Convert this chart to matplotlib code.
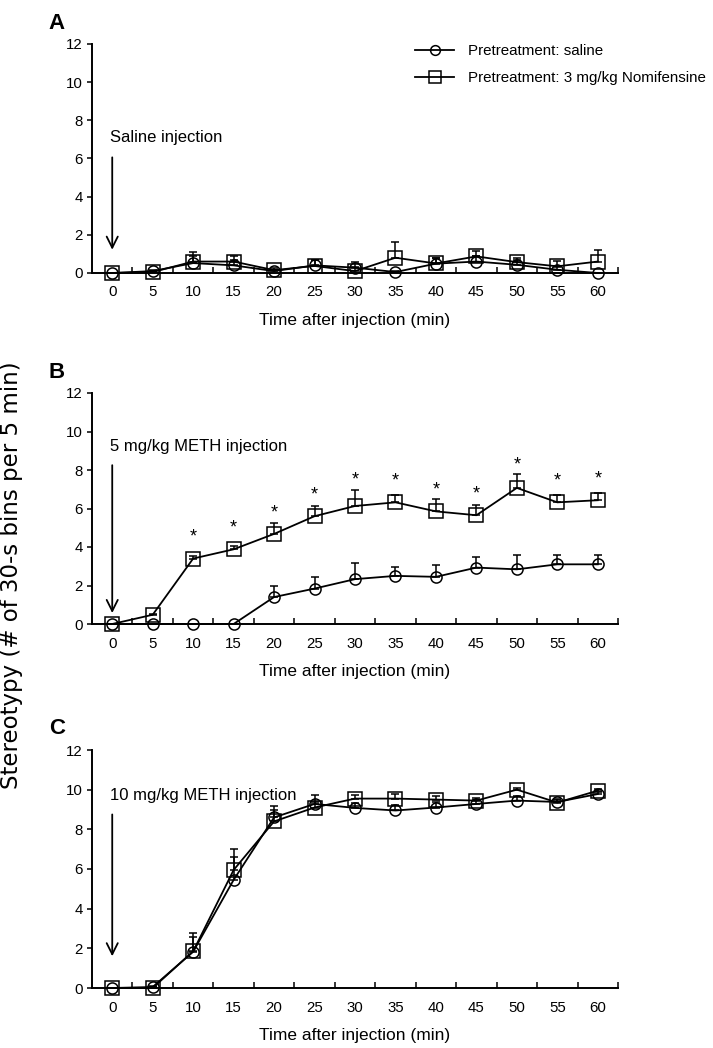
import numpy as np
import matplotlib
matplotlib.use('Agg')
import matplotlib.pyplot as plt
from matplotlib.lines import Line2D

plt.rcParams['font.family'] = ['Liberation Sans', 'DejaVu Sans']

time = [0, 5, 10, 15, 20, 25, 30, 35, 40, 45, 50, 55, 60]

# panel A: saline challenge
a_sal = [0, 0.1, 0.52, 0.4, 0.1, 0.4, 0.28, 0.05, 0.49, 0.6, 0.43, 0.17, 0.0]
a_sal_sem = [0, 0.05, 0.35, 0.3, 0.05, 0.3, 0.3, 0.05, 0.3, 0.3, 0.25, 0.15, 0]
a_nom = [0, 0.05, 0.6, 0.6, 0.15, 0.37, 0.1, 0.8, 0.5, 0.87, 0.57, 0.35, 0.6]
a_nom_sem = [0, 0.05, 0.5, 0.3, 0.1, 0.3, 0.2, 0.82, 0.3, 0.3, 0.23, 0.3, 0.6]

# panel B: 5 mg/kg METH
b_sal = [0, 0, 0, 0, 1.4, 1.84, 2.33, 2.5, 2.45, 2.93, 2.84, 3.1, 3.1]
b_sal_sem = [0, 0, 0, 0, 0.55, 0.6, 0.86, 0.47, 0.62, 0.55, 0.75, 0.49, 0.49]
b_nom = [0, 0.48, 3.4, 3.88, 4.68, 5.6, 6.13, 6.32, 5.85, 5.65, 7.07, 6.32, 6.43]
b_nom_sem = [0, 0.05, 0.15, 0.15, 0.58, 0.55, 0.85, 0.4, 0.62, 0.52, 0.71, 0.4, 0.38]
b_signif = [False, False, True, True, True, True, True, True, True, True, True, True, True]

# panel C: 10 mg/kg METH
c_sal = [0, 0.05, 1.83, 5.45, 8.6, 9.28, 9.08, 8.95, 9.1, 9.28, 9.45, 9.38, 9.78]
c_sal_sem = [0, 0.05, 0.72, 1.15, 0.6, 0.45, 0.25, 0.3, 0.3, 0.2, 0.25, 0.15, 0.1]
c_nom = [0, 0.0, 1.85, 5.95, 8.4, 9.1, 9.55, 9.55, 9.5, 9.45, 10.0, 9.35, 9.95]
c_nom_sem = [0, 0.05, 0.9, 1.08, 0.55, 0.3, 0.2, 0.25, 0.2, 0.15, 0.1, 0.15, 0.1]

letters = ['A', 'B', 'C']
notes = ['Saline injection', '5 mg/kg METH injection', '10 mg/kg METH injection']
note_y = [7.1, 9.2, 9.7]
arrow_from = [6.06, 8.25, 8.75]
arrow_to = [1.22, 0.57, 1.6]
legend_labels = ['Pretreatment: saline', 'Pretreatment: 3 mg/kg Nomifensine']

panels = [(a_sal, a_sal_sem, a_nom, a_nom_sem),
          (b_sal, b_sal_sem, b_nom, b_nom_sem),
          (c_sal, c_sal_sem, c_nom, c_nom_sem)]

fig = plt.figure(figsize=(7.13, 10.48), dpi=100)
W, H = 713.0, 1048.0
tops = [44, 393, 750]
bottoms = [273, 624, 988]

axes = []
for i in range(3):
    ax = fig.add_axes([92 / W, 1 - bottoms[i] / H, (618 - 92) / W, (bottoms[i] - tops[i]) / H])
    axes.append(ax)
    sal, sal_sem, nom, nom_sem = panels[i]
    zeros = np.zeros(len(time))
    ax.errorbar(time, sal, yerr=[zeros, sal_sem], fmt='-o', color='k', mfc='none', mec='k',
                ms=8, mew=1.1, lw=1.3, elinewidth=1.1, capsize=3, capthick=1.1,
                clip_on=False)
    ax.errorbar(time, nom, yerr=[zeros, nom_sem], fmt='-s', color='k', mfc='none', mec='k',
                ms=9.5, mew=1.1, lw=1.3, elinewidth=1.1, capsize=3, capthick=1.1,
                clip_on=False)

    ax.set_xlim(-2.5, 62.5)
    ax.set_ylim(0, 12)
    ax.set_yticks(range(0, 13, 2))
    ax.set_xticks(time)
    ax.set_xticks(np.arange(2.5, 63, 5), minor=True)
    ax.tick_params(axis='x', which='major', length=0, pad=9, labelsize=10.8)
    ax.tick_params(axis='x', which='minor', direction='in', length=4, width=1.1)
    ax.tick_params(axis='y', direction='out', length=3.5, width=1.1, pad=3, labelsize=10.8)
    for s in ['top', 'right']:
        ax.spines[s].set_visible(False)
    for s in ['left', 'bottom']:
        ax.spines[s].set_linewidth(1.4)
    ax.set_xlabel('Time after injection (min)', fontsize=12.5, labelpad=10)

    ax.annotate('', xy=(0, arrow_to[i]), xytext=(0, arrow_from[i]),
                arrowprops=dict(arrowstyle='->', color='k', lw=1.3,
                                shrinkA=0, shrinkB=0, mutation_scale=20))
    ax.text(-0.3, note_y[i], notes[i], fontsize=12, ha='left', va='center')
    ax.text(-0.082, 1.066, letters[i], transform=ax.transAxes, fontsize=16,
            fontweight='bold', ha='left', va='baseline')

# significance stars in panel B
ax = axes[1]
for t, m, e, sig in zip(time, b_nom, b_nom_sem, b_signif):
    if sig:
        ax.text(t, max(m + e, m + 0.6) + 0.5, '*', fontsize=13, ha='center', va='center')

handles = [Line2D([], [], color='k', lw=1.3, marker='o', mfc='none', ms=7, mew=1.1),
           Line2D([], [], color='k', lw=1.3, marker='s', mfc='none', ms=8, mew=1.1)]
axes[0].legend(handles, legend_labels, loc='upper left', bbox_to_anchor=(415 / W, 1 - 44 / H),
               bbox_transform=fig.transFigure, frameon=False, fontsize=10.9,
               borderpad=0, borderaxespad=0, handlelength=2.6, handletextpad=0.9,
               labelspacing=0.85)

fig.text(0.016, 1 - 575 / H, 'Stereotypy (# of 30-s bins per 5 min)', rotation=90,
         ha='center', va='center', fontsize=16.5, family=['DejaVu Sans'])

fig.savefig('out.png', dpi=100)
